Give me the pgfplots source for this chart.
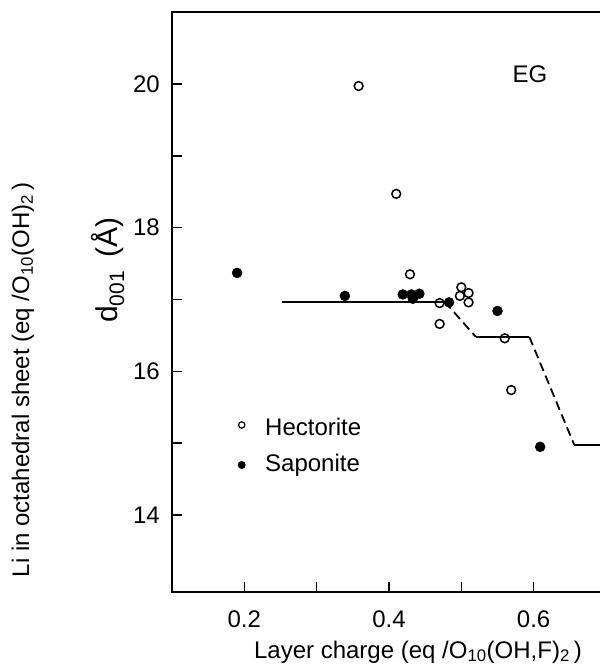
\documentclass[border=0pt]{standalone}
\usepackage{pgfplots}
\pgfplotsset{compat=1.18}
\usepackage{fontspec}
\setmainfont{Liberation Sans}
\begin{document}
\begin{tikzpicture}
\fontsize{24}{28}\selectfont
\begin{axis}[
  at={(0pt,0pt)}, anchor=south west,
  scale only axis, width=434pt, height=580pt,
  xmin=0.1, xmax=0.7, ymin=12.93, ymax=21.0,
  xtick={0.2,0.4,0.6}, minor xtick={0.3,0.5},
  ytick={14,16,18,20}, minor ytick={15,17,19},
  xticklabels={0.2,0.4,0.6},
  yticklabels={14,16,18,20},
  tick pos=left,
  major tick length=10pt, minor tick length=10pt,
  every tick/.style={black, line width=1.6pt},
  axis line style={line width=1.8pt},
  tick label style={font=\fontsize{24}{28}\selectfont},
  xticklabel style={yshift=-11pt},
  yticklabel style={xshift=-4pt},
  clip=false,
]
\addplot[black, line width=1.8pt] coordinates {(0.252,16.97) (0.477,16.97)};
\addplot[black, line width=1.8pt, dash pattern=on 9pt off 5pt] coordinates {(0.477,16.97) (0.52,16.48)};
\addplot[black, line width=1.8pt] coordinates {(0.52,16.48) (0.594,16.48)};
\addplot[black, line width=1.8pt, dash pattern=on 9pt off 5pt] coordinates {(0.594,16.48) (0.656,14.98)};
\addplot[black, line width=1.8pt] coordinates {(0.656,14.98) (0.72,14.98)};
\addplot[only marks, mark=o, mark size=4.4pt, mark options={line width=1.5pt, fill=white, draw=black}] coordinates {
(0.358,19.97) (0.410,18.47) (0.429,17.35) (0.470,16.95) (0.470,16.66)
(0.500,17.17) (0.498,17.05) (0.510,17.09) (0.510,16.96) (0.560,16.46) (0.569,15.74)};
\addplot[only marks, mark=*, mark size=5pt, mark options={black, fill=black}] coordinates {
(0.190,17.37) (0.339,17.05) (0.419,17.07) (0.431,17.07) (0.442,17.08)
(0.433,17.01) (0.483,16.96) (0.550,16.84) (0.609,14.95)};
\node[font=\fontsize{24}{28}\selectfont] at (axis cs:0.595,20.13) {EG};
\end{axis}
\node[anchor=west] at (85pt,165pt) {Hectorite};
\node[anchor=west] at (85pt,127pt) {Saponite};
\draw[line width=1.2pt] (69.7pt,167pt) circle (3.2pt);
\fill (69.7pt,127pt) circle (4pt);
\node[rotate=90] at (-64pt,322pt) {\fontsize{30}{34}\selectfont d\textsubscript{001} \,(Å)};
\node[rotate=90] at (-149pt,212pt) {Li in octahedral sheet (eq /O\textsubscript{10}(OH)\textsubscript{2}\,)};
\node at (246pt,-60pt) {Layer charge (eq /O\textsubscript{10}(OH,F)\textsubscript{2}\,)};
\pgfresetboundingbox
\useasboundingbox (-172pt,-73pt) rectangle (428pt,592pt);
\end{tikzpicture}
\end{document}
